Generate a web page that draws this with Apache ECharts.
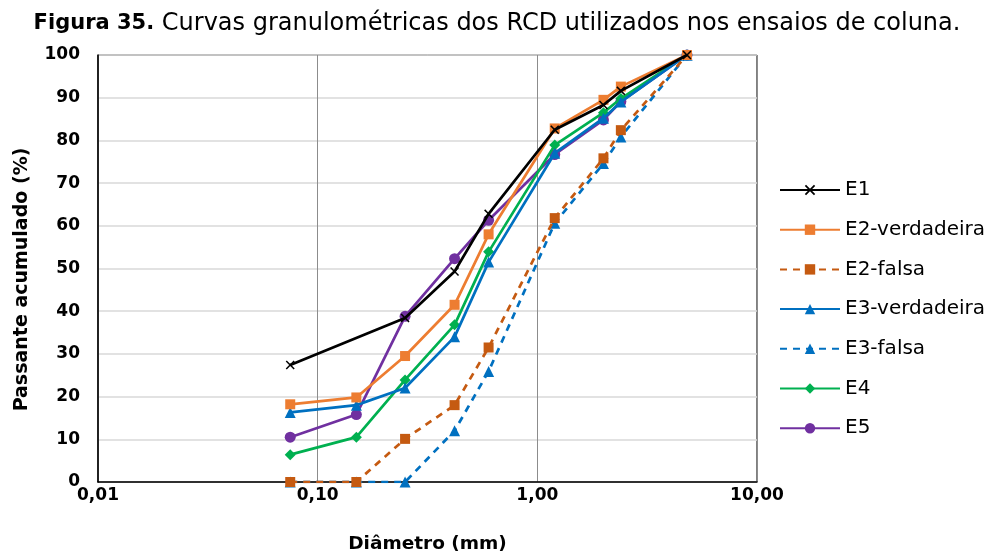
<!DOCTYPE html>
<html>
<head>
<meta charset="utf-8">
<script src="https://cdn.jsdelivr.net/npm/echarts@6/dist/echarts.min.js"></script>
<style>
html,body{margin:0;padding:0;background:#fff;}
#c{width:994px;height:555px;}
</style>
</head>
<body>
<div id="c"></div>
<script>
var sieves = [0.075, 0.15, 0.25, 0.42, 0.6, 1.2, 2.0, 2.4, 4.8];
var seriesNames = ['E1', 'E2-verdadeira', 'E2-falsa', 'E3-verdadeira', 'E3-falsa', 'E4', 'E5'];
var e1 = [27.4, null, 38.4, 49.3, 62.8, 82.5, 88.3, 91.6, 100];
var e2v = [18.2, 19.8, 29.5, 41.5, 58.0, 82.8, 89.5, 92.6, 100];
var e2f = [0, 0, 10.1, 18.0, 31.5, 61.8, 75.8, 82.4, 100];
var e3v = [16.3, 18.0, 22.0, 34.0, 51.5, 77.0, 85.2, 89.0, 100];
var e3f = [0, 0, 0, 12.0, 25.9, 60.6, 74.6, 80.8, 100];
var e4 = [6.4, 10.5, 23.9, 36.8, 53.9, 78.9, 86.5, 89.8, 100];
var e5 = [10.5, 15.8, 38.8, 52.3, 61.3, 76.7, 84.8, 89.1, 100];
var xTicks = [0.01, 0.1, 1, 10];

function pairs(vals) {
  var out = [];
  for (var i = 0; i < sieves.length; i++) {
    if (vals[i] !== null) out.push([sieves[i], vals[i]]);
  }
  return out;
}

var xPath = 'path://M0,1.2L1.2,0L5,3.8L8.8,0L10,1.2L6.2,5L10,8.8L8.8,10L5,6.2L1.2,10L0,8.8L3.8,5Z';

var styles = [
  {vals: e1, color: '#000000', symbol: xPath, size: 9, dash: 'solid'},
  {vals: e2v, color: '#ED7D31', symbol: 'rect', size: 10, dash: 'solid'},
  {vals: e2f, color: '#C55A11', symbol: 'rect', size: 10, dash: [7, 6]},
  {vals: e3v, color: '#0070C0', symbol: 'triangle', size: 11, dash: 'solid'},
  {vals: e3f, color: '#0070C0', symbol: 'triangle', size: 11, dash: [7, 6]},
  {vals: e4, color: '#00B050', symbol: 'diamond', size: 11, dash: 'solid'},
  {vals: e5, color: '#7030A0', symbol: 'circle', size: 11, dash: 'solid'}
];

var series = styles.map(function (s, i) {
  return {
    name: seriesNames[i],
    type: 'line',
    data: pairs(s.vals),
    symbol: s.symbol,
    symbolSize: s.size,
    showAllSymbol: true,
    lineStyle: {color: s.color, width: 2.7, type: s.dash},
    itemStyle: {color: s.color},
    emphasis: {disabled: true},
    z: 10 - i
  };
});

var FONT = 'DejaVu Sans';

var chart = echarts.init(document.getElementById('c'), null, {renderer: 'canvas'});
chart.setOption({
  animation: false,
  backgroundColor: '#ffffff',
  title: {
    text: '{b|Figura 35.} Curvas granulométricas dos RCD utilizados nos ensaios de coluna.',
    left: 'center',
    top: 12,
    padding: 0,
    textStyle: {
      fontFamily: FONT,
      fontSize: 24,
      fontWeight: 'normal',
      color: '#000',
      rich: {b: {fontFamily: FONT, fontSize: 21, fontWeight: 'bold', color: '#000'}}
    }
  },
  grid: {
    left: 98, right: 237, top: 55, bottom: 73,
    show: true, borderColor: '#000', borderWidth: 1,
    containLabel: false, outerBoundsMode: 'none'
  },
  legend: {
    orient: 'vertical',
    left: 779,
    top: 180,
    padding: 0,
    itemWidth: 60,
    itemHeight: 13,
    itemGap: 19.7,
    textStyle: {fontFamily: FONT, fontSize: 20, lineHeight: 20, color: '#000', padding: [0, 0, 0, 0]},
    data: seriesNames
  },
  xAxis: {
    type: 'log',
    logBase: 10,
    min: 0.01,
    max: 10,
    name: 'Diâmetro (mm)',
    nameLocation: 'middle',
    nameGap: 53,
    nameTextStyle: {fontFamily: FONT, fontSize: 18.5, fontWeight: 'bold', color: '#000'},
    axisLine: {show: true, lineStyle: {color: '#000', width: 1.5}},
    axisTick: {show: false},
    axisLabel: {
      fontFamily: FONT, fontSize: 17, fontWeight: 'bold', color: '#000', margin: 5,
      formatter: function (v) { return v.toFixed(2).replace('.', ','); }
    },
    splitLine: {show: true, lineStyle: {color: '#8c8c8c', width: 1}},
    minorTick: {show: false}
  },
  yAxis: {
    type: 'value',
    min: 0,
    max: 100,
    interval: 10,
    name: 'Passante acumulado (%)',
    nameLocation: 'middle',
    nameGap: 66,
    nameRotate: 90,
    nameTextStyle: {fontFamily: FONT, fontSize: 19, fontWeight: 'bold', color: '#000', padding: [0, 22, 0, 0]},
    axisLine: {show: true, lineStyle: {color: '#000', width: 1.5}},
    axisTick: {show: false},
    axisLabel: {fontFamily: FONT, fontSize: 17, fontWeight: 'bold', color: '#000', margin: 18},
    splitLine: {show: true, lineStyle: {color: '#d9d9d9', width: 1.5}}
  },
  series: series
});
</script>
</body>
</html>
